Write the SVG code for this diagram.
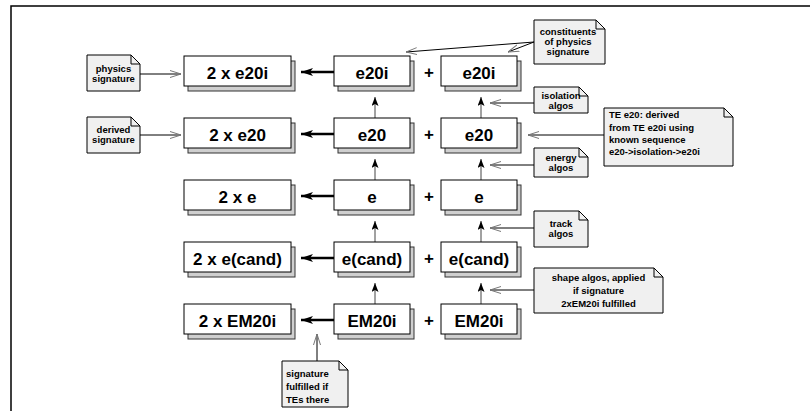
<svg xmlns="http://www.w3.org/2000/svg" width="810" height="411" viewBox="0 0 810 411">
<style>
.shadow{fill:#cfcfcf;stroke:#333;stroke-width:1}
.box{fill:#fff;stroke:#000;stroke-width:1}
.lbl{font-family:"Liberation Sans",Arial,sans-serif;font-weight:bold;font-size:17px;text-anchor:middle;fill:#000}
.note{fill:#f0f0f0;stroke:#000;stroke-width:1}
.ear{fill:none;stroke:#000;stroke-width:1}
.nt{font-family:"Liberation Sans",Arial,sans-serif;font-weight:bold;font-size:9.5px;fill:#000}
.c{text-anchor:middle}
.thin{stroke:#000;stroke-width:1;fill:none}
.thick{stroke:#000;stroke-width:2.5;fill:none}
.vline{stroke:#444;stroke-width:1;fill:none}
</style>
<defs>
<marker id="fill" viewBox="0 0 12 8" refX="12" refY="4" markerWidth="12" markerHeight="8" markerUnits="userSpaceOnUse" orient="auto">
<path d="M0,0 L12,4 L0,8 L3,4 Z" fill="#000"/>
</marker>
<marker id="fillv" viewBox="0 0 9 7" refX="9" refY="3.5" markerWidth="9" markerHeight="7" markerUnits="userSpaceOnUse" orient="auto">
<path d="M0,0 L9,3.5 L0,7 L2,3.5 Z" fill="#000"/>
</marker>
<marker id="open" viewBox="0 0 11 8" refX="11" refY="4" markerWidth="11" markerHeight="8" markerUnits="userSpaceOnUse" orient="auto">
<path d="M0,0.5 L11,4 L0,7.5" fill="none" stroke="#777" stroke-width="1"/>
</marker>
</defs>
<rect width="810" height="411" fill="#fff"/>
<path d="M11,411 V6 H810" fill="none" stroke="#000" stroke-width="1.5"/>

<g id="connectors">
<line class="thick" x1="334" y1="72" x2="301" y2="72" marker-end="url(#fill)"/>
<line class="thick" x1="334" y1="134" x2="301" y2="134" marker-end="url(#fill)"/>
<line class="thick" x1="334" y1="196" x2="301" y2="196" marker-end="url(#fill)"/>
<line class="thick" x1="334" y1="258" x2="301" y2="258" marker-end="url(#fill)"/>
<line class="thick" x1="334" y1="320" x2="301" y2="320" marker-end="url(#fill)"/>
<line class="vline" x1="375" y1="118" x2="375" y2="97" marker-end="url(#fillv)"/>
<line class="vline" x1="375" y1="180" x2="375" y2="159" marker-end="url(#fillv)"/>
<line class="vline" x1="375" y1="242" x2="375" y2="221" marker-end="url(#fillv)"/>
<line class="vline" x1="375" y1="304" x2="375" y2="283" marker-end="url(#fillv)"/>
<line class="vline" x1="481" y1="118" x2="481" y2="97" marker-end="url(#fillv)"/>
<line class="vline" x1="481" y1="180" x2="481" y2="159" marker-end="url(#fillv)"/>
<line class="vline" x1="481" y1="242" x2="481" y2="221" marker-end="url(#fillv)"/>
<line class="vline" x1="481" y1="304" x2="481" y2="283" marker-end="url(#fillv)"/>
<line class="thin" x1="140" y1="74" x2="181" y2="74" marker-end="url(#open)"/>
<line class="thin" x1="140" y1="135" x2="181" y2="135" marker-end="url(#open)"/>
<line class="thin" x1="534" y1="42" x2="406" y2="52" marker-end="url(#open)"/>
<line class="thin" x1="534" y1="42" x2="508" y2="52" marker-end="url(#open)"/>
<line class="thin" x1="534" y1="103" x2="490" y2="103" marker-end="url(#open)"/>
<line class="thin" x1="604" y1="135" x2="528" y2="135" marker-end="url(#open)"/>
<line class="thin" x1="534" y1="165" x2="490" y2="165" marker-end="url(#open)"/>
<line class="thin" x1="534" y1="228" x2="490" y2="228" marker-end="url(#open)"/>
<line class="thin" x1="534" y1="290" x2="490" y2="290" marker-end="url(#open)"/>
<line class="thin" x1="317" y1="361" x2="317" y2="334" marker-end="url(#open)"/>
</g>

<g id="sig-e20i"><rect class="shadow" x="188" y="61" width="107" height="30"/><rect class="box" x="184" y="56" width="107" height="30"/><text class="lbl" x="237.5" y="79">2 x e20i</text></g>
<g id="sig-e20"><rect class="shadow" x="188" y="123" width="107" height="30"/><rect class="box" x="184" y="118" width="107" height="30"/><text class="lbl" x="237.5" y="141">2 x e20</text></g>
<g id="sig-e"><rect class="shadow" x="188" y="185" width="107" height="30"/><rect class="box" x="184" y="180" width="107" height="30"/><text class="lbl" x="237.5" y="203">2 x e</text></g>
<g id="sig-ecand"><rect class="shadow" x="188" y="247" width="107" height="30"/><rect class="box" x="184" y="242" width="107" height="30"/><text class="lbl" x="237.5" y="265">2 x e(cand)</text></g>
<g id="sig-em20i"><rect class="shadow" x="188" y="309" width="107" height="30"/><rect class="box" x="184" y="304" width="107" height="30"/><text class="lbl" x="237.5" y="327">2 x EM20i</text></g>

<g id="m-e20i"><rect class="shadow" x="338" y="61" width="76" height="30"/><rect class="box" x="334" y="56" width="76" height="30"/><text class="lbl" x="372" y="79">e20i</text></g>
<g id="m-e20"><rect class="shadow" x="338" y="123" width="76" height="30"/><rect class="box" x="334" y="118" width="76" height="30"/><text class="lbl" x="372" y="141">e20</text></g>
<g id="m-e"><rect class="shadow" x="338" y="185" width="76" height="30"/><rect class="box" x="334" y="180" width="76" height="30"/><text class="lbl" x="372" y="203">e</text></g>
<g id="m-ecand"><rect class="shadow" x="338" y="247" width="76" height="30"/><rect class="box" x="334" y="242" width="76" height="30"/><text class="lbl" x="372" y="265">e(cand)</text></g>
<g id="m-em20i"><rect class="shadow" x="338" y="309" width="76" height="30"/><rect class="box" x="334" y="304" width="76" height="30"/><text class="lbl" x="372" y="327">EM20i</text></g>

<g id="plus">
<text class="lbl" x="429" y="78">+</text>
<text class="lbl" x="429" y="140">+</text>
<text class="lbl" x="429" y="202">+</text>
<text class="lbl" x="429" y="264">+</text>
<text class="lbl" x="429" y="326">+</text>
</g>

<g id="r-e20i"><rect class="shadow" x="445" y="61" width="76" height="30"/><rect class="box" x="441" y="56" width="76" height="30"/><text class="lbl" x="479" y="79">e20i</text></g>
<g id="r-e20"><rect class="shadow" x="445" y="123" width="76" height="30"/><rect class="box" x="441" y="118" width="76" height="30"/><text class="lbl" x="479" y="141">e20</text></g>
<g id="r-e"><rect class="shadow" x="445" y="185" width="76" height="30"/><rect class="box" x="441" y="180" width="76" height="30"/><text class="lbl" x="479" y="203">e</text></g>
<g id="r-ecand"><rect class="shadow" x="445" y="247" width="76" height="30"/><rect class="box" x="441" y="242" width="76" height="30"/><text class="lbl" x="479" y="265">e(cand)</text></g>
<g id="r-em20i"><rect class="shadow" x="445" y="309" width="76" height="30"/><rect class="box" x="441" y="304" width="76" height="30"/><text class="lbl" x="479" y="327">EM20i</text></g>

<g id="note-physics"><path class="note" d="M87,55 H131 L140,64 V91 H87 Z"/><path class="ear" d="M131,55 V64 H140"/>
<text class="nt c" x="113.5" y="72">physics</text><text class="nt c" x="113.5" y="82">signature</text></g>
<g id="note-derived"><path class="note" d="M87,117 H131 L140,126 V153 H87 Z"/><path class="ear" d="M131,117 V126 H140"/>
<text class="nt c" x="113.5" y="133">derived</text><text class="nt c" x="113.5" y="143">signature</text></g>
<g id="note-constituents"><path class="note" d="M534,20 H596 L605,29 V64 H534 Z"/><path class="ear" d="M596,20 V29 H605"/>
<text class="nt c" x="568" y="35">constituents</text><text class="nt c" x="568" y="45">of physics</text><text class="nt c" x="568" y="55">signature</text></g>
<g id="note-isolation"><path class="note" d="M534,87 H579 L588,96 V113 H534 Z"/><path class="ear" d="M579,87 V96 H588"/>
<text class="nt c" x="561" y="99">isolation</text><text class="nt c" x="561" y="109">algos</text></g>
<g id="note-te"><path class="note" d="M604,108 H724 L733,117 V166 H604 Z"/><path class="ear" d="M724,108 V117 H733"/>
<text class="nt" x="609" y="118" font-size="11">TE e20: derived</text><text class="nt" x="609" y="131" font-size="11">from TE e20i using</text><text class="nt" x="609" y="143" font-size="11">known sequence</text><text class="nt" x="609" y="155" font-size="11">e20-&gt;isolation-&gt;e20i</text></g>
<g id="note-energy"><path class="note" d="M534,148 H579 L588,157 V177 H534 Z"/><path class="ear" d="M579,148 V157 H588"/>
<text class="nt c" x="561" y="161">energy</text><text class="nt c" x="561" y="171">algos</text></g>
<g id="note-track"><path class="note" d="M534,211 H579 L588,220 V247 H534 Z"/><path class="ear" d="M579,211 V220 H588"/>
<text class="nt c" x="561" y="227">track</text><text class="nt c" x="561" y="237">algos</text></g>
<g id="note-shape"><path class="note" d="M534,268 H654 L663,277 V313 H534 Z"/><path class="ear" d="M654,268 V277 H663"/>
<text class="nt c" x="598.5" y="281" font-size="10.5">shape algos, applied</text><text class="nt c" x="598.5" y="294" font-size="10.5">if signature</text><text class="nt c" x="598.5" y="307" font-size="10.5">2xEM20i fulfilled</text></g>
<g id="note-fulfilled"><path class="note" d="M282,361 H339 L348,370 V407 H282 Z"/><path class="ear" d="M339,361 V370 H348"/>
<text class="nt" x="286" y="377" font-size="10.5">signature</text><text class="nt" x="286" y="390" font-size="10.5">fulfilled if</text><text class="nt" x="286" y="403" font-size="10.5">TEs there</text></g>
</svg>
